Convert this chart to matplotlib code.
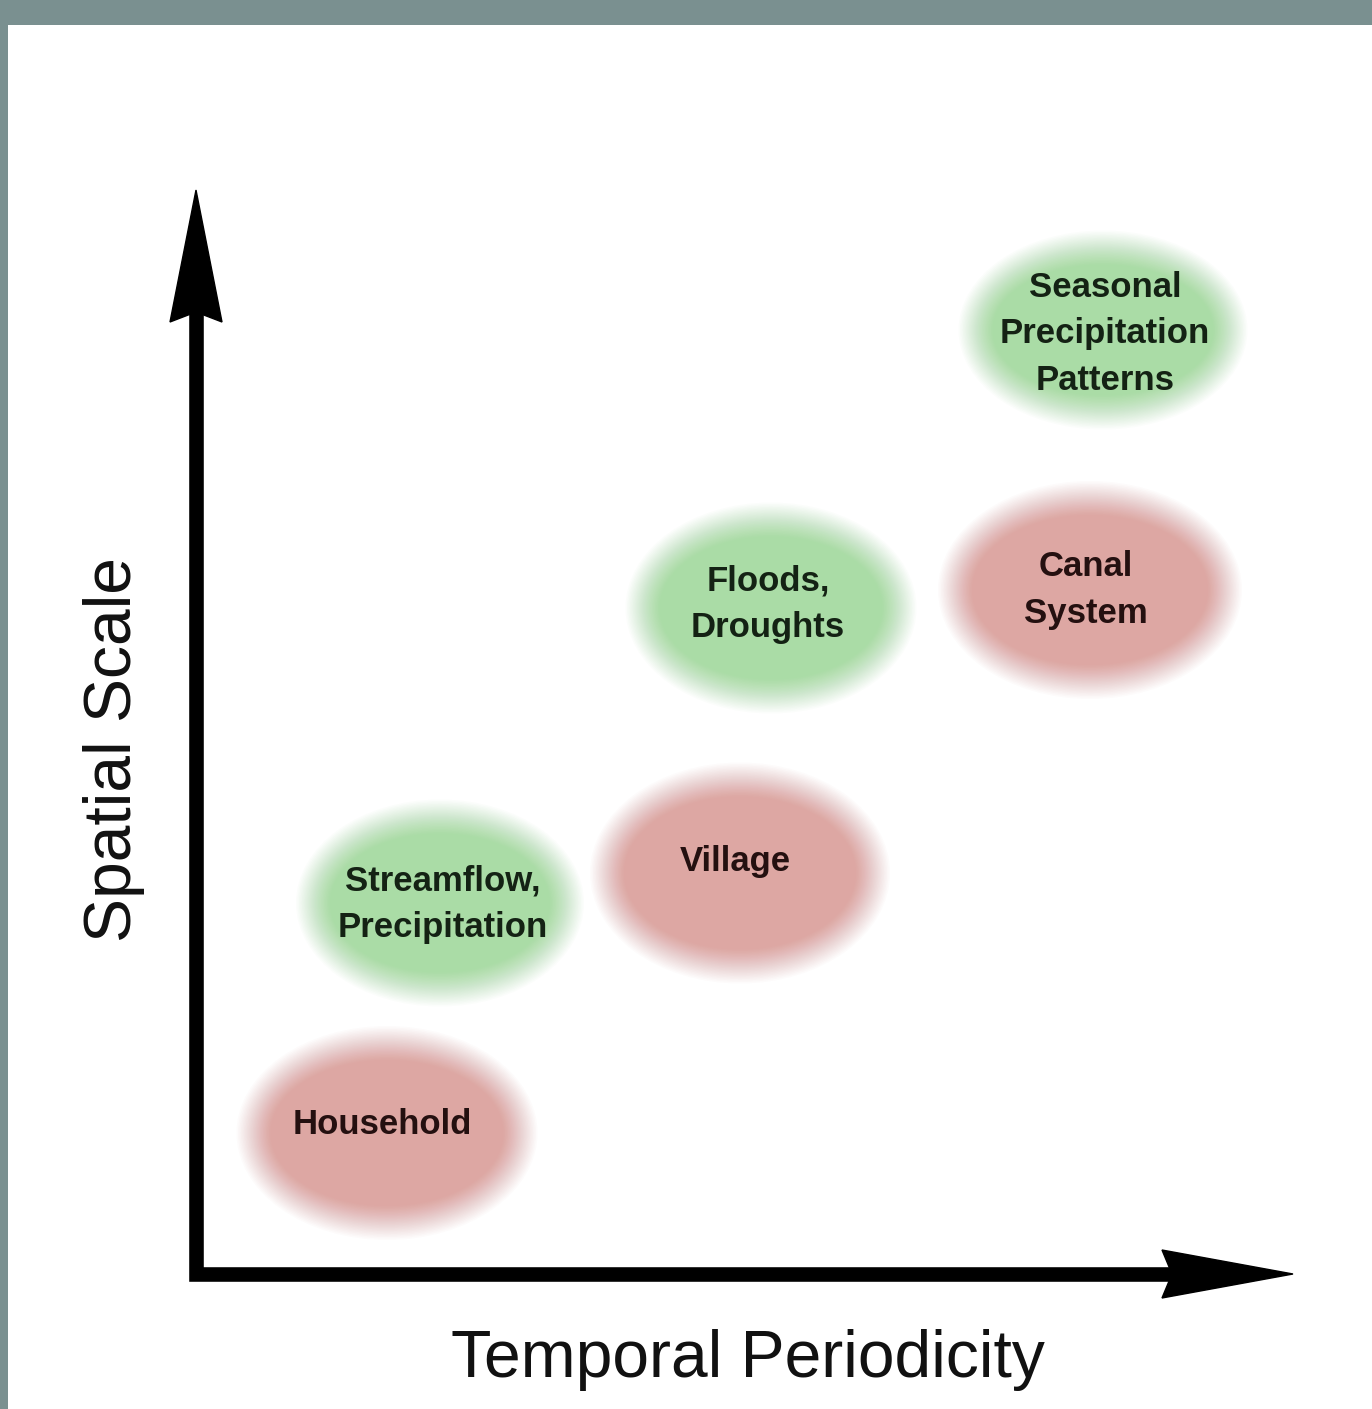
import matplotlib
matplotlib.use("Agg")
import matplotlib.pyplot as plt
from matplotlib.patches import Ellipse, Rectangle, Polygon

# ---- data (pixel-space layout of the concept diagram) ----
labels = ["Seasonal\nPrecipitation\nPatterns", "Canal\nSystem", "Floods,\nDroughts",
          "Village", "Streamflow,\nPrecipitation", "Household"]
kinds = ["climate", "social", "climate", "social", "climate", "social"]
x_center = [1103, 1090, 771, 740, 440, 387]
y_center = [330, 590, 608, 873, 903, 1133]
widths = [255, 270, 257, 266, 254, 267]
heights = [165, 184, 177, 187, 173, 180]
text_x = [1105, 1086, 768, 735, 443, 382]
text_y = [334, 590, 604, 862, 904, 1125]

x_label = "Temporal Periodicity"
y_label = "Spatial Scale"

fill_colors = {"climate": "#aadca6", "social": "#dda7a3"}
text_colors = {"climate": "#142214", "social": "#241010"}

W, H = 1372, 1409
fig = plt.figure(figsize=(W / 100, H / 100), dpi=100)
fig.patch.set_facecolor("#7a9090")
ax = fig.add_axes([0, 0, 1, 1])
ax.set_xlim(0, W)
ax.set_ylim(H, 0)
ax.axis("off")

# white panel
ax.add_patch(Rectangle((8, 25), W, H, facecolor="white", edgecolor="none", zorder=0))


def soft_ellipse(cx, cy, w, h, color, blur=17, n=24):
    for k in range(n):
        t = k / (n - 1)
        d = blur * (1 - 2 * t)
        a = 1.0 / (n - k)
        ax.add_patch(Ellipse((cx, cy), w + 2 * d, h + 2 * d, facecolor=color,
                             edgecolor="none", alpha=a, zorder=2))


for lab, kd, cx, cy, w, h, tx, ty in zip(labels, kinds, x_center, y_center,
                                         widths, heights, text_x, text_y):
    soft_ellipse(cx, cy, w, h, fill_colors[kd])
    ax.text(tx, ty, lab, ha="center", va="center", fontsize=25,
            fontweight="bold", family="Liberation Sans", color=text_colors[kd],
            linespacing=1.52, zorder=4)

# axes arrows
lw = 10.5
ax.plot([196, 196, 1180], [300, 1274, 1274], color="black", lw=lw,
        solid_joinstyle="miter", solid_capstyle="butt", zorder=3)
ax.add_patch(Polygon([(196, 190), (222, 322), (196, 312), (170, 322)],
                     closed=True, facecolor="black", edgecolor="black", lw=1, zorder=3))
ax.add_patch(Polygon([(1293, 1274), (1162, 1298), (1172, 1274), (1162, 1250)],
                     closed=True, facecolor="black", edgecolor="black", lw=1, zorder=3))

ax.text(748, 1360, x_label, ha="center", va="center", fontsize=47.5,
        family="Liberation Sans", color="#111111", zorder=4)
ax.text(114, 750, y_label, ha="center", va="center", fontsize=47.5,
        family="Liberation Sans", color="#111111", rotation=90, zorder=4)

fig.savefig("out.png", dpi=100, facecolor=fig.get_facecolor())
